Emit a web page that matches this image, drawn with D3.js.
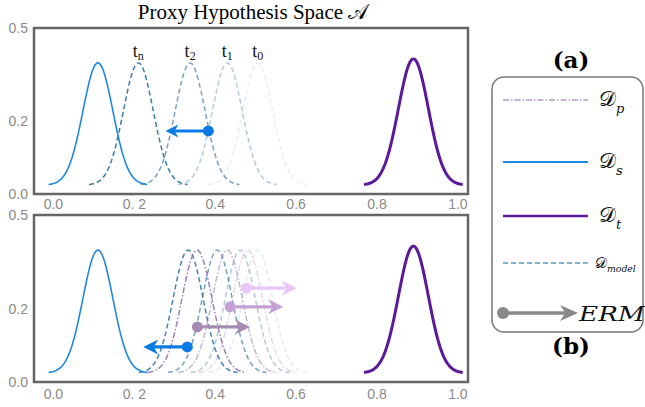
<!DOCTYPE html>
<html>
<head>
<meta charset="utf-8">
<script src="https://cdn.jsdelivr.net/npm/d3@7"></script>
<style>
  body { margin: 0; background: #fff; }
  svg { display: block; }
</style>
</head>
<body>
<div class="chart"></div>
<script>
// axis ticks
var xTicks = [0, 0.2, 0.4, 0.6, 0.8, 1.0];
var xTickLabels = ["0.0", "0. 2", "0.4", "0.6", "0.8", "1.0"];
var yTicks = [0, 0.22, 0.5];
var yTickLabels = ["0.0", "0.2", "0.5"];

// distributions (means), shared by both panels
var sourceMean = 0.11;
var targetMean = 0.89;
var topModelMeans = [0.21, 0.338, 0.43, 0.505];
var topModelNames = ["n", "2", "1", "0"];
var botModelMeans = [0.333, 0.405, 0.462, 0.505];
var botProxyMeans = [0.355, 0.43, 0.48];

// ERM arrows: [start x, end x, y]
var topArrows = [[0.383, 0.277, 0.19]];
var botArrows = [[0.331, 0.222, 0.105], [0.356, 0.486, 0.165], [0.437, 0.568, 0.225], [0.477, 0.602, 0.281]];

// styles (kept apart from data)
var topModelAlpha = [1, 0.7, 0.4, 0.12];
var botModelAlpha = [0.95, 0.7, 0.4, 0.15];
var botProxyAlpha = [0.85, 0.5, 0.25];
var botArrowColors = ["#0b7be3", "#a68bb3", "#c3a1d5", "#e8c6f8"];

var width = 645, height = 407;
var blue = "#1f88e5", purple = "#5c1a9b", modelCol = "#3a7ea8", proxyCol = "#8e6ca8";
var base = 0.027, amp = 0.368, ampT = 0.38, sigma = 0.037, span = 0.122;

var svg = d3.select(".chart").append("svg").attr("width", width).attr("height", height);

var x = d3.scaleLinear().domain([-0.048, 1.025]).range([34, 468]);

function gauss(m, a) {
	return d3.range(m - span, m + span + 1e-9, 0.002).map(function(v) {
		return [v, base + a * Math.exp(-0.5 * Math.pow((v - m) / sigma, 2))];
	});
}

function curve(g, y, m, a, col, sw, dash, op) {
	var line = d3.line().x(function(d) { return x(d[0]); }).y(function(d) { return y(d[1]); }).curve(d3.curveBasis);
	g.append("path").attr("d", line(gauss(m, a)))
		.attr("fill", "none").attr("stroke", col).attr("stroke-width", sw)
		.attr("stroke-dasharray", dash).attr("stroke-opacity", op);
}

function arrow(g, x0, x1, yy, col, hl, hw, r, sw) {
	var dir = x1 > x0 ? 1 : -1;
	g.append("line").attr("x1", x0).attr("x2", x1 - dir * hl * 0.6).attr("y1", yy).attr("y2", yy)
		.attr("stroke", col).attr("stroke-width", sw);
	var p = d3.path();
	p.moveTo(x1, yy);
	p.lineTo(x1 - dir * hl, yy - hw / 2);
	p.lineTo(x1 - dir * hl * 0.7, yy);
	p.lineTo(x1 - dir * hl, yy + hw / 2);
	p.closePath();
	g.append("path").attr("d", p.toString()).attr("fill", col);
	g.append("circle").attr("cx", x0).attr("cy", yy).attr("r", r).attr("fill", col);
}

function panel(top, bottom, labelY) {
	var y = d3.scaleLinear().domain([0, 0.5]).range([bottom, top]);
	var g = svg.append("g");
	g.append("rect").attr("x", 34).attr("y", top).attr("width", 434).attr("height", bottom - top)
		.attr("fill", "#fff").attr("stroke", "#666").attr("stroke-width", 2.5);
	g.selectAll(".xt").data(xTicks).enter().append("text")
		.attr("x", function(d) { return x(d); }).attr("y", labelY)
		.attr("text-anchor", "middle").attr("font-family", "Liberation Sans, Arial, sans-serif")
		.attr("font-size", 14).attr("fill", "#8a8a8a")
		.text(function(d, i) { return xTickLabels[i]; });
	g.selectAll(".yt").data(yTicks).enter().append("text")
		.attr("x", 28).attr("y", function(d) { return y(d) + 5; })
		.attr("text-anchor", "end").attr("font-family", "Liberation Sans, Arial, sans-serif")
		.attr("font-size", 14).attr("fill", "#8a8a8a")
		.text(function(d, i) { return yTickLabels[i]; });
	return {g: g, y: y};
}

// title
svg.append("text").attr("x", 253).attr("y", 19).attr("text-anchor", "middle")
	.attr("font-family", "Liberation Serif, serif").attr("font-size", 21)
	.text("Proxy Hypothesis Space 𝒜");

// (a) panel
var pa = panel(28, 194, 209);
topModelMeans.forEach(function(m, i) {
	curve(pa.g, pa.y, m, amp, modelCol, 1.5, "5,3", topModelAlpha[i]);
	var t = pa.g.append("text").attr("x", x(m)).attr("y", 57).attr("text-anchor", "middle")
		.attr("font-family", "Liberation Serif, serif").attr("font-size", 18).attr("fill", "#111");
	t.append("tspan").text("t");
	t.append("tspan").attr("font-size", 12).attr("dy", 3).text(topModelNames[i]);
});
curve(pa.g, pa.y, sourceMean, amp, blue, 1.6, null, 1);
curve(pa.g, pa.y, targetMean, ampT, purple, 3, null, 1);
topArrows.forEach(function(a) {
	arrow(pa.g, x(a[0]), x(a[1]), pa.y(a[2]), "#0b7be3", 13, 13, 5.5, 3);
});

// (b) panel
var pb = panel(215, 382, 399);
botModelMeans.forEach(function(m, i) {
	curve(pb.g, pb.y, m, amp, modelCol, 1.5, "5,3", botModelAlpha[i]);
});
botProxyMeans.forEach(function(m, i) {
	curve(pb.g, pb.y, m, amp, proxyCol, 1.5, "6,2,1.5,2", botProxyAlpha[i]);
});
curve(pb.g, pb.y, sourceMean, amp, blue, 1.6, null, 1);
curve(pb.g, pb.y, targetMean, ampT, purple, 3, null, 1);
botArrows.forEach(function(a, i) {
	arrow(pb.g, x(a[0]), x(a[1]), pb.y(a[2]), botArrowColors[i], 15, 15, 5.5, 3.2);
});

// legend
var lg = svg.append("g");
lg.append("rect").attr("x", 492).attr("y", 77).attr("width", 151).attr("height", 255).attr("rx", 12)
	.attr("fill", "#fff").attr("stroke", "#777").attr("stroke-width", 1.5);
var legItems = [
	{y: 100, col: "#b39bc9", dash: "6,2,1.5,2", w: 1.5, sub: "p", fs: 21},
	{y: 162, col: blue, dash: null, w: 2, sub: "s", fs: 21},
	{y: 216, col: purple, dash: null, w: 2.5, sub: "t", fs: 21},
	{y: 263, col: "#5b9cc2", dash: "5,3", w: 1.5, sub: "model", fs: 15}
];
legItems.forEach(function(d) {
	lg.append("line").attr("x1", 503).attr("x2", 588).attr("y1", d.y).attr("y2", d.y)
		.attr("stroke", d.col).attr("stroke-width", d.w).attr("stroke-dasharray", d.dash);
	var t = lg.append("text").attr("x", d.fs > 16 ? 599 : 595).attr("y", d.y + d.fs * 0.3)
		.attr("font-family", "DejaVu Serif, serif").attr("font-size", d.fs).attr("fill", "#111");
	t.append("tspan").text("𝒟");
	t.append("tspan").attr("font-style", "italic").attr("font-size", d.fs * 0.62).attr("dy", d.fs * 0.3).text(d.sub);
});
arrow(lg, 503, 578, 313, "#888", 18, 16, 6, 3.5);
lg.append("text").attr("transform", "translate(579,321) scale(1.25,1)")
	.attr("font-family", "DejaVu Serif, serif")
	.attr("font-style", "italic").attr("font-size", 21).attr("fill", "#111")
	.text("ERM");

svg.append("text").attr("x", 571).attr("y", 68).attr("text-anchor", "middle")
	.attr("font-family", "DejaVu Serif, serif").attr("font-weight", "bold").attr("font-size", 23).text("(a)");
svg.append("text").attr("x", 571).attr("y", 354).attr("text-anchor", "middle")
	.attr("font-family", "DejaVu Serif, serif").attr("font-weight", "bold").attr("font-size", 23).text("(b)");
</script>
</body>
</html>
